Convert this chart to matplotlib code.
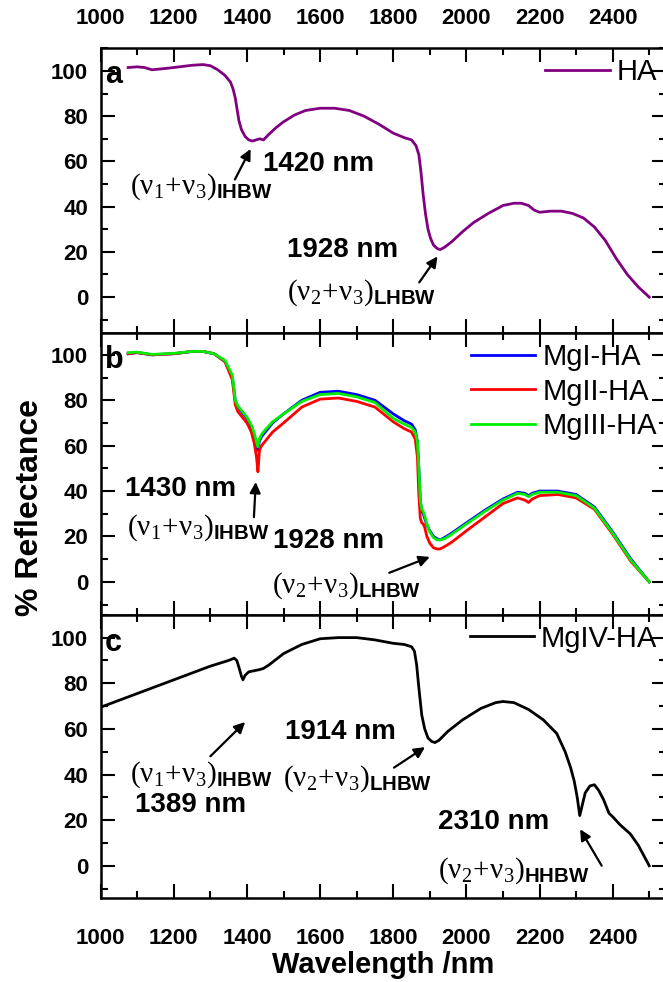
import matplotlib
matplotlib.use("Agg")
import matplotlib.pyplot as plt
from matplotlib.ticker import MultipleLocator

plt.rcParams["font.family"] = ["Liberation Sans", "DejaVu Sans"]
plt.rcParams["mathtext.fontset"] = "custom"
plt.rcParams["mathtext.rm"] = "Liberation Serif"
plt.rcParams["mathtext.it"] = "Liberation Serif:italic"
plt.rcParams["mathtext.bf"] = "Liberation Sans:bold"

# panel a: HA
wl_a = [1075, 1100, 1120, 1140, 1160, 1200, 1250, 1280, 1300, 1320, 1340, 1355,
        1362, 1368, 1372, 1378, 1385, 1395, 1405, 1415, 1425, 1435, 1445, 1460,
        1480, 1500, 1530, 1560, 1600, 1640, 1680, 1720, 1760, 1800, 1830, 1850,
        1862, 1870, 1876, 1882, 1888, 1895, 1902, 1910, 1920, 1928, 1940, 1960,
        1990, 2020, 2060, 2100, 2130, 2150, 2170, 2185, 2200, 2230, 2260, 2290,
        2320, 2350, 2380, 2410, 2440, 2470, 2500]
ha = [101.5, 101.8, 101.5, 100.5, 100.8, 101.5, 102.5, 102.8, 102.3, 100.5, 98, 95,
      92, 88, 84, 78, 74, 71, 69.5, 69, 69.5, 70, 69.5, 72,
      75, 77.5, 80.5, 82.5, 83.5, 83.5, 82.5, 80, 76.5, 72.5, 70.5, 69.5,
      67, 63, 55, 45, 37, 30, 26, 23, 21.5, 21, 22, 24.5,
      29, 33, 37, 40.5, 41.5, 41.5, 40.5, 38.5, 37.5, 38, 38, 37,
      35, 31, 25, 17, 10, 4.5, 0]

# panel b: MgI / MgII / MgIII
wl_b = [1075, 1100, 1140, 1200, 1250, 1280, 1310, 1340, 1360, 1368, 1375, 1385,
        1400, 1412, 1420, 1426, 1430, 1434, 1440, 1450, 1470, 1500, 1550, 1600,
        1650, 1700, 1750, 1800, 1830, 1850, 1860, 1866, 1870, 1874, 1878, 1882,
        1886, 1892, 1900, 1910, 1920, 1928, 1940, 1960, 2000, 2050, 2100, 2140,
        2160, 2170, 2180, 2200, 2250, 2300, 2350, 2400, 2450, 2500]
mg1 = [100.5, 101, 100, 100.5, 101.5, 101.5, 100.5, 97, 90, 80, 77, 75,
       72, 68, 64, 60, 58, 62, 64, 66, 70, 74, 80, 83.5,
       84, 82.5, 80, 74, 71, 69.5, 67, 62, 50, 36, 31, 30,
       28, 25, 22.5, 20, 19, 18.5, 19.5, 21.5, 26, 31.5, 36.5, 39.5,
       39, 38, 39, 40, 40, 38.5, 33, 22, 10, 0]
mg2 = [100.5, 101, 100, 100.5, 101.5, 101.5, 100.5, 97, 89, 78, 75, 73,
       70, 66, 61, 55, 48.5, 58, 60, 62, 66, 70, 77, 80.5,
       81, 79.5, 77, 70.5, 67.5, 66, 63, 55, 38, 28, 26, 25.5,
       24, 20, 17, 15, 14.5, 14.5, 15.5, 17.5, 22.5, 28.5, 34.5, 37,
       36, 35, 36.5, 38, 38.5, 37, 32, 21, 9, 0]
mg3 = [101, 101.2, 100.2, 100.7, 101.5, 101.5, 100.5, 97.5, 91, 80, 77.5, 75.5,
       72.5, 69, 65.5, 61.5, 59.5, 63, 65, 67, 70.5, 74, 79.5, 82.5,
       83, 81.5, 79, 72, 69.5, 68, 66, 62, 50, 36, 32, 31,
       29, 25.5, 22, 19.5, 18.5, 18.5, 19, 21, 25.5, 31, 36, 39,
       38.5, 37.5, 38.5, 39.5, 39.5, 38, 32.5, 21.5, 9.5, 0]

# panel c: MgIV
wl_c = [1000, 1100, 1200, 1300, 1350, 1365, 1372, 1378, 1385, 1389, 1395, 1405,
        1420, 1435, 1445, 1460, 1500, 1550, 1600, 1650, 1700, 1750, 1800, 1830,
        1850, 1858, 1864, 1870, 1878, 1886, 1895, 1905, 1914, 1925, 1950, 1990,
        2040, 2080, 2100, 2130, 2170, 2210, 2247, 2270, 2285, 2295, 2303, 2310,
        2316, 2325, 2338, 2350, 2362, 2375, 2390, 2400, 2420, 2448, 2470, 2490, 2500]
mg4 = [69.5, 75.5, 81.5, 87.5, 90, 91, 90, 87, 83, 81.5, 83.5, 85,
       85.5, 86, 86.5, 88, 93, 97, 99.5, 100, 100, 99, 97.5, 97,
       96, 94, 88, 78, 66, 60, 56, 54.5, 54, 55, 59, 64,
       69, 71.5, 72, 71.5, 68.5, 64, 58, 50, 43, 37, 30, 22,
       26, 32, 35, 35.5, 33, 29, 23, 21.5, 18, 14, 9, 3, 0]

W, H = 663, 982
fig = plt.figure(figsize=(W / 100, H / 100), dpi=100)

left = 100.7 / W
width = 565 / W
panels = [(48.3, 333.3), (333.3, 614.8), (614.8, 897.7)]
axes = []
for top, bot in panels:
    ax = fig.add_axes([left, 1 - bot / H, width, (bot - top) / H])
    axes.append(ax)

ax_a, ax_b, ax_c = axes
ax_a.plot(wl_a, ha, color="#800080", lw=2, label="HA")
ax_b.plot(wl_b, mg1, color="#0000ff", lw=2, label="MgI-HA")
ax_b.plot(wl_b, mg2, color="#ff0000", lw=2, label="MgII-HA")
ax_b.plot(wl_b, mg3, color="#00ee00", lw=2, label="MgIII-HA")
ax_c.plot(wl_c, mg4, color="black", lw=2, label="MgIV-HA")

ylims = [(-16, 110), (-14.5, 109.5), (-14, 110)]
for ax, yl in zip(axes, ylims):
    ax.set_ylim(*yl)
    ax.set_xticks(range(1000, 2401, 200))
    ax.xaxis.set_minor_locator(MultipleLocator(100))
    ax.yaxis.set_major_locator(MultipleLocator(20))
    ax.yaxis.set_minor_locator(MultipleLocator(10))
    ax.set_xlim(1000, 2545)
    ax.tick_params(which="both", direction="in", top=True, right=True,
                   labelright=False, labelbottom=False, labelsize=16, width=1.5)
    ax.tick_params(which="major", length=10)
    ax.tick_params(which="minor", length=5)
    ax.tick_params(axis="y", pad=9)
    for sp in ax.spines.values():
        sp.set_linewidth(1.8)

ax_a.tick_params(axis="x", labeltop=True, pad=14)
ax_c.tick_params(axis="x", labelbottom=True, pad=22)
for ax in axes:
    for lab in ax.get_xticklabels() + ax.get_yticklabels():
        lab.set_fontweight("bold")

for ax, letter, yy in zip(axes, ["a", "b", "c"], [0.905, 0.905, 0.90]):
    ax.text(0.008, yy, letter, transform=ax.transAxes, fontsize=22,
            fontweight="bold", va="center", ha="left")

leg_kw = dict(frameon=False, fontsize=21, handlelength=2.2, handletextpad=0.25,
              borderpad=0, borderaxespad=0, labelspacing=0.22, loc="upper right")
ax_a.legend(bbox_to_anchor=(0.985, 0.965), **leg_kw)
ax_b.legend(bbox_to_anchor=(0.985, 0.965), **leg_kw)
ax_c.legend(bbox_to_anchor=(0.985, 0.965), **leg_kw)

lab13 = r"$(\mathrm{\nu}_1\!+\!\mathrm{\nu}_3)_{\mathbf{IHBW}}$"
lab23l = r"$(\mathrm{\nu}_2\!+\!\mathrm{\nu}_3)_{\mathbf{LHBW}}$"
lab23h = r"$(\mathrm{\nu}_2\!+\!\mathrm{\nu}_3)_{\mathbf{HHBW}}$"
arrow = dict(arrowstyle="-|>", color="black", lw=1.6, mutation_scale=16,
             shrinkA=0, shrinkB=0)
nm_kw = dict(fontsize=20, fontweight="bold", va="center", ha="left")
nu_kw = dict(fontsize=21, va="center", ha="left")

# panel a annotations
ax_a.text(1444, 59, "1420 nm", **nm_kw)
ax_a.text(1080, 49, lab13, **nu_kw)
ax_a.annotate("", xy=(1410, 65.5), xytext=(1367, 52), arrowprops=arrow)
ax_a.text(1510, 21, "1928 nm", **nm_kw)
ax_a.text(1510, 2, lab23l, **nu_kw)
ax_a.annotate("", xy=(1921, 18), xytext=(1871, 6.5), arrowprops=arrow)

# panel b annotations
ax_b.text(1067, 41, "1430 nm", **nm_kw)
ax_b.text(1072, 24, lab13, **nu_kw)
ax_b.annotate("", xy=(1424, 44), xytext=(1419, 28.5), arrowprops=arrow)
ax_b.text(1471, 18, "1928 nm", **nm_kw)
ax_b.text(1468, -1.5, lab23l, **nu_kw)
ax_b.annotate("", xy=(1900, 11), xytext=(1789, 4), arrowprops=arrow)

# panel c annotations
ax_c.text(1080, 40, lab13, **nu_kw)
ax_c.text(1094, 26.5, "1389 nm", **nm_kw)
ax_c.annotate("", xy=(1395, 63), xytext=(1300, 48), arrowprops=arrow)
ax_c.text(1504, 58.5, "1914 nm", **nm_kw)
ax_c.text(1499, 38, lab23l, **nu_kw)
ax_c.annotate("", xy=(1887, 52), xytext=(1802, 43), arrowprops=arrow)
ax_c.text(1922, 19, "2310 nm", **nm_kw)
ax_c.text(1922, -2, lab23h, **nu_kw)
ax_c.annotate("", xy=(2311, 16), xytext=(2370, 0), arrowprops=arrow)

fig.text(30 / W, 1 - 507 / H, "% Reflectance", rotation=90, fontsize=23,
         fontweight="bold", ha="center", va="center")
fig.text(383 / W, 1 - 965 / H, "Wavelength /nm", fontsize=21,
         fontweight="bold", ha="center", va="center")

fig.savefig("out.png", dpi=100)
